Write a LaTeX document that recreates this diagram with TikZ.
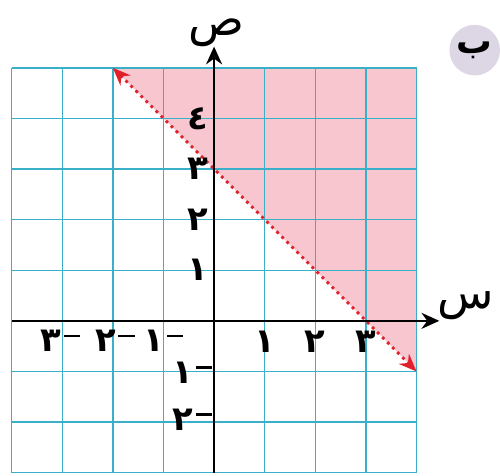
\documentclass[tikz,border=0pt]{standalone}
\usepackage{fontspec}
\newfontfamily\ar[Script=Arabic]{DejaVu Sans}
\TeXXeTstate=1
\usetikzlibrary{arrows.meta}
\definecolor{gridc}{HTML}{3AAFC8}
\definecolor{pinkf}{HTML}{F7C6CE}
\definecolor{linered}{HTML}{E0202A}
\definecolor{lav}{HTML}{DDD7E5}
\newcommand\mnsign{\kern1.5pt\rule[0.3cm]{0.32cm}{1.2pt}}
\tikzset{
  gridline/.style={draw=gridc, line width=0.8pt},
  axisline/.style={draw=black, line width=1.4pt, -{Stealth[length=10pt,width=9pt]}},
  bound/.style={draw=linered, line width=1.6pt, dash pattern=on 1.6pt off 2.4pt, {Stealth[length=10pt,width=8pt,fill=linered]}-{Stealth[length=10pt,width=8pt,fill=linered]}},
  num/.style={font=\ar\bfseries\fontsize{19}{22}\selectfont, inner sep=0pt},
  axlabel/.style={font=\ar\fontsize{26}{30}\selectfont, inner sep=0pt},
}
\begin{document}
\begin{tikzpicture}
\useasboundingbox (-4.23,-3.06) rectangle (5.65,6.34);
% shaded region
\fill[pinkf] (-2,5) -- (4,5) -- (4,-1) -- cycle;
% grid
\foreach \x in {-4,...,4} \draw[gridline] (\x,-3) -- (\x,5);
\foreach \y in {-3,...,5} \draw[gridline] (-4,\y) -- (4,\y);
% boundary line
\coordinate (p1) at (-2,5);
\coordinate (p2) at (4,-1);
\draw[bound] (p1) -- (p2);
% axes
\coordinate (xs) at (-4,0);
\coordinate (xe) at (4.45,0);
\coordinate (ys) at (0,-3);
\coordinate (ye) at (0,5.42);
\draw[axisline] (xs) -- (xe);
\draw[axisline] (ys) -- (ye);
\node[axlabel] (lx) at (4.97,0.3) {\beginR س\endR};
\node[axlabel] (ly) at (0.05,5.7) {\beginR ص\endR};
% x ticks
\node[num] (x1) at (1,-0.42) {١};
\node[num] (x2) at (2,-0.42) {٢};
\node[num] (x3) at (3,-0.42) {٣};
\node[num] (xm1) at (-1.0,-0.4) {١\mnsign};
\node[num] (xm2) at (-1.96,-0.4) {٢\mnsign};
\node[num] (xm3) at (-3.04,-0.4) {٣\mnsign};
% y ticks
\node[num] (y1) at (-0.33,1) {١};
\node[num] (y2) at (-0.33,2) {٢};
\node[num] (y3) at (-0.33,3) {٣};
\node[num] (y4) at (-0.33,4) {٤};
\node[num] (ym1) at (-0.43,-1.03) {١\mnsign};
\node[num] (ym2) at (-0.43,-1.96) {٢\mnsign};
% label b
\node[circle, fill=lav, minimum size=1cm, inner sep=0pt, font=\ar\bfseries\fontsize{20}{22}\selectfont] (lab) at (5.15,5.35) {\beginR ب\endR};
\end{tikzpicture}
\end{document}
